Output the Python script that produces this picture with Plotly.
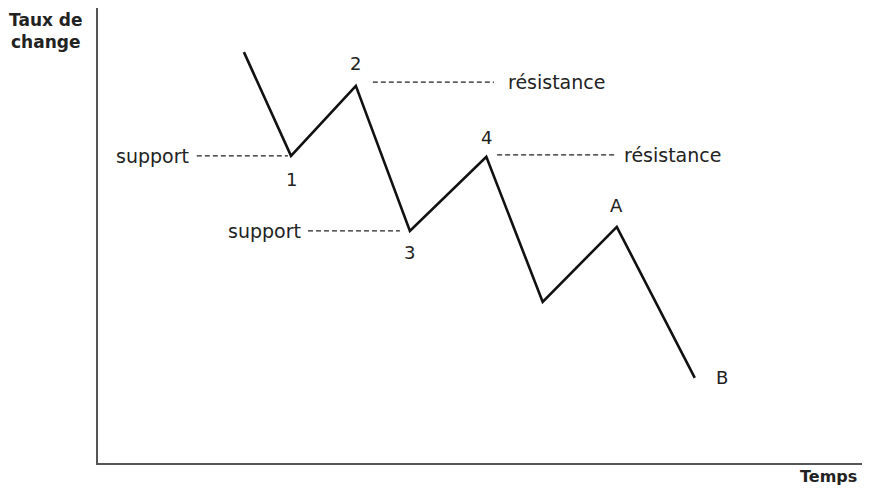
import plotly.graph_objects as go

# price path (time, exchange rate) in arbitrary units
temps = [18.9, 25.0, 33.4, 40.4, 50.3, 57.6, 67.2, 77.3]
taux = [90.3, 67.5, 82.9, 51.0, 67.3, 35.4, 51.9, 18.7]

# point labels
point_labels = ["1", "2", "3", "4", "A", "B"]
label_t = [25.0, 33.4, 40.4, 50.3, 67.2, 80.8]
label_v = [62.4, 87.7, 46.2, 71.6, 56.7, 18.7]

# support / resistance levels
niveau_debut = [12.8, 27.2, 35.6, 51.7]
niveau_fin = [24.6, 39.1, 51.3, 67.0]
niveau_val = [67.5, 51.0, 83.7, 67.7]
niveau_txt = ["support", "support", "résistance", "résistance"]
niveau_txt_t = [12.0, 26.5, 52.9, 67.9]
niveau_txt_side = ["right", "right", "left", "left"]

FONT = "DejaVu Sans"

fig = go.Figure()

for d, f, v in zip(niveau_debut, niveau_fin, niveau_val):
    fig.add_trace(go.Scatter(
        x=[d, f], y=[v, v], mode="lines",
        line=dict(color="#222", width=1.2, dash="5px,3px"),
        hoverinfo="skip", showlegend=False
    ))

fig.add_trace(go.Scatter(
    x=temps, y=taux, mode="lines",
    line=dict(color="#111", width=2.6),
    showlegend=False
))

for txt, t, v in zip(point_labels, label_t, label_v):
    fig.add_annotation(x=t, y=v, text=txt, showarrow=False,
                       font=dict(family=FONT, size=18, color="#222"))

for txt, t, v, side in zip(niveau_txt, niveau_txt_t, niveau_val, niveau_txt_side):
    fig.add_annotation(x=t, y=v, text=txt, showarrow=False, xanchor=side,
                       font=dict(family=FONT, size=19, color="#222"))

fig.add_annotation(xref="paper", yref="paper", x=-0.068, y=1.0, xanchor="center",
                   yanchor="top", text="<b>Taux de<br>change</b>", showarrow=False,
                   align="center", font=dict(family=FONT, size=17, color="#222"))
fig.add_annotation(xref="paper", yref="paper", x=0.996, y=-0.055, xanchor="right",
                   yanchor="bottom", text="<b>Temps</b>", showarrow=False,
                   font=dict(family=FONT, size=16, color="#222"))

fig.update_layout(
    width=854, height=482,
    margin=dict(l=90, r=0, t=0, b=27),
    plot_bgcolor="white", paper_bgcolor="white",
    xaxis=dict(range=[0, 98.96], showline=True, linecolor="#555", linewidth=1.5,
               showgrid=False, zeroline=False, showticklabels=False, ticks=""),
    yaxis=dict(range=[0, 100], showline=True, linecolor="#555", linewidth=1.5,
               showgrid=False, zeroline=False, showticklabels=False, ticks=""),
)

fig.write_html("out.html")
